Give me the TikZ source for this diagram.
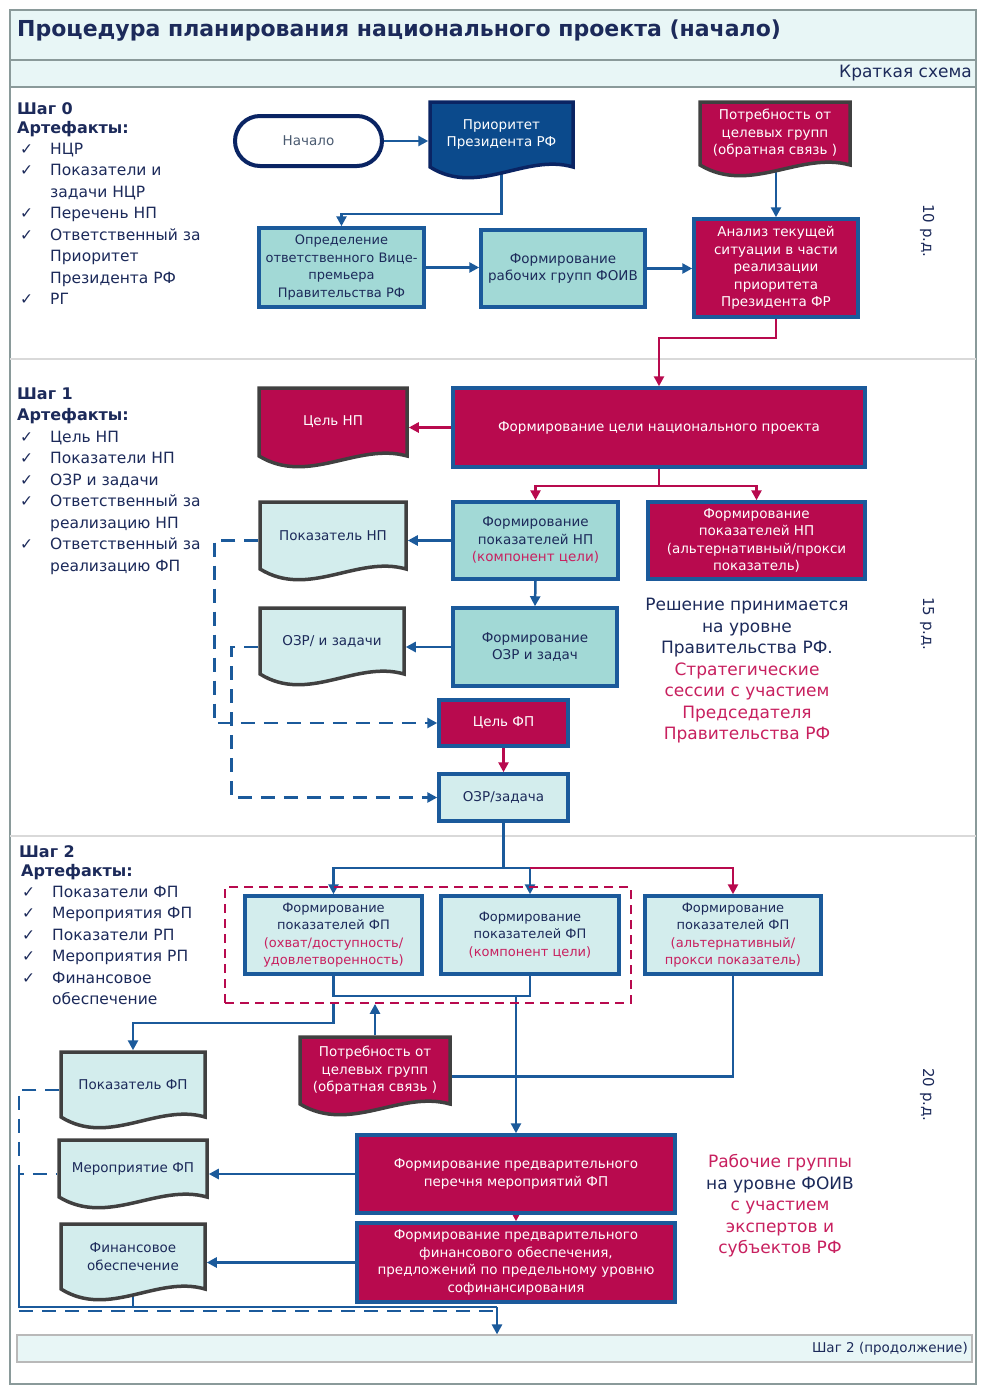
\documentclass[tikz,border=0pt]{standalone}
\usepackage{fontspec}
\setmainfont{DejaVu Sans}
\usetikzlibrary{arrows.meta,calc}
\pgfdeclarelayer{bg}
\pgfsetlayers{bg,main}
\definecolor{crim}{HTML}{B80A4E}
\definecolor{ctext}{HTML}{C8205F}
\definecolor{bblue}{HTML}{1B5A9B}
\definecolor{navy}{HTML}{1C2A5A}
\definecolor{tealf}{HTML}{A2D9D6}
\definecolor{lcyan}{HTML}{D3EDED}
\definecolor{dgray}{HTML}{404040}
\definecolor{pblue}{HTML}{0B4A8C}
\definecolor{pnavy}{HTML}{0A2463}
\definecolor{hdr}{HTML}{E8F6F6}
\definecolor{framec}{HTML}{8A9A9A}
\definecolor{startt}{HTML}{4A5A70}
\newcommand\bxn[7]{%
 \pgfmathsetmacro\bxw{#4-#2}%
 \pgfmathsetmacro\bxh{#5-#3}%
 \pgfmathsetmacro\bxcx{(#2+#4)/2}%
 \pgfmathsetmacro\bxcy{(#3+#5)/2}%
 \node[#6, minimum width=\bxw pt, minimum height=\bxh pt] (#1) at (\bxcx,\bxcy) {#7};}
\newcommand\docsh[8]{%
 \pgfmathsetmacro\dw{#4-#2}%
 \pgfmathsetmacro\yb{#5-11}%
 \pgfmathsetmacro\cxa{#4-\dw/3}%
 \pgfmathsetmacro\cxb{#2+\dw/3}%
 \pgfmathsetmacro\cya{\yb-14}%
 \pgfmathsetmacro\cyb{\yb+30}%
 \pgfmathsetmacro\dh{\yb-#3}%
 \pgfmathsetmacro\dcx{(#2+#4)/2}%
 \pgfmathsetmacro\dcy{(#3+\yb)/2}%
 \draw[#6] (#2,#3) -- (#4,#3) -- (#4,\yb) .. controls (\cxa,\cya) and (\cxb,\cyb) .. (#2,\yb) -- cycle;
 \node[doctext,#7, minimum width=\dw pt, minimum height=\dh pt] (#1) at (\dcx,\dcy) {#8};}
\tikzset{
 bxs/.style={draw=bblue, line width=3.5pt, align=center, font=\fontsize{13.5}{17.5}\selectfont, inner sep=2pt},
 tealbox/.style={bxs, fill=tealf, text=navy},
 cyanbox/.style={bxs, fill=lcyan, text=navy},
 crimbox/.style={bxs, fill=crim, text=white},
 docd/.style={draw=dgray, line width=3.5pt},
 doctext/.style={align=center, font=\fontsize{13.5}{17.5}\selectfont, inner sep=0pt, outer sep=1.75pt},
 startst/.style={draw=pnavy, line width=4pt, rounded corners=25pt, fill=white, text=startt, font=\fontsize{13.5}{17.5}\selectfont},
 grpst/.style={draw=crim, line width=1.8pt, dash pattern=on 9pt off 6pt},
 bline/.style={draw=bblue, line width=2.5pt},
 barrow/.style={bline, -{Triangle[length=10pt,width=10pt]}},
 rline/.style={draw=crim, line width=2.5pt},
 rarrow/.style={rline, -{Triangle[length=10pt,width=10pt]}},
 dline/.style={bline, dash pattern=on 14pt off 9pt},
 darrow/.style={dline, -{Triangle[length=10pt,width=10pt]}},
 hdst/.style={font=\bfseries\fontsize{16}{19}\selectfont, text=navy, inner sep=0pt},
 listst/.style={font=\fontsize{15.5}{21.5}\selectfont, text=navy, inner sep=0pt},
 rtext/.style={font=\fontsize{17}{21.5}\selectfont, text=navy, align=center, inner sep=0pt},
 daysst/.style={font=\fontsize{15}{18}\selectfont, text=navy, rotate=-90, inner sep=0pt},
}
\begin{document}
\begin{tikzpicture}[x=1pt,y=-1pt]
\useasboundingbox (0,0) rectangle (984,1392);
% frame
\begin{pgfonlayer}{bg}
\fill[white] (0,0) rectangle (984,1392);
\fill[hdr] (10,10) rectangle (976,87);
\draw[framec, line width=2.5pt] (10,10) rectangle (976,1384);
\draw[framec, line width=2.5pt] (10,60) -- (976,60);
\draw[framec, line width=1.5pt] (10,87) -- (976,87);
\draw[gray!30, line width=1.5pt] (10,359) -- (976,359);
\draw[gray!30, line width=1.5pt] (10,836) -- (976,836);
\end{pgfonlayer}
\node[anchor=west, font=\bfseries\fontsize{22}{25}\selectfont, text=navy, inner sep=0pt] (title) at (17,31) {Процедура планирования национального проекта (начало)};
\node[anchor=east, font=\fontsize{17}{20}\selectfont, text=navy, inner sep=0pt] (subt) at (972,73) {Краткая схема};
\bxn{bot}{17}{1335}{972}{1362}{fill=hdr, draw=gray!55, line width=1.2pt}{}
\node[anchor=east, font=\fontsize{13.5}{16}\selectfont, text=navy, inner sep=0pt] (bott) at (968,1349) {Шаг 2 (продолжение)};

% left texts
\node[hdst, anchor=base west] (s0) at (17,114) {Шаг 0};
\node[hdst, anchor=base west] (s0a) at (17,133) {Артефакты:};
\node[listst, anchor=base west] (l0) at (20,154) {\begin{tabular}[t]{@{}p{30pt}@{}l@{}}✓&НЦР\\✓&Показатели и\\&задачи НЦР\\✓&Перечень НП\\✓&Ответственный за\\&Приоритет\\&Президента РФ\\✓&РГ\end{tabular}};
\node[hdst, anchor=base west] (s1) at (17,399) {Шаг 1};
\node[hdst, anchor=base west] (s1a) at (17,420) {Артефакты:};
\node[listst, anchor=base west] (l1) at (20,442) {\begin{tabular}[t]{@{}p{30pt}@{}l@{}}✓&Цель НП\\✓&Показатели НП\\✓&ОЗР и задачи\\✓&Ответственный за\\&реализацию НП\\✓&Ответственный за\\&реализацию ФП\end{tabular}};
\node[hdst, anchor=base west] (s2) at (19,857) {Шаг 2};
\node[hdst, anchor=base west] (s2a) at (21,876) {Артефакты:};
\node[listst, anchor=base west] (l2) at (22,897) {\begin{tabular}[t]{@{}p{30pt}@{}l@{}}✓&Показатели ФП\\✓&Мероприятия ФП\\✓&Показатели РП\\✓&Мероприятия РП\\✓&Финансовое\\&обеспечение\end{tabular}};

% step 0
\bxn{start}{235}{116}{382}{166}{startst}{Начало}
\docsh{prior}{430}{102}{573}{178}{docd, draw=pnavy, fill=pblue}{text=white}{Приоритет\\Президента РФ}
\docsh{potr1}{700}{102}{850}{176}{docd, fill=crim}{text=white}{Потребность от\\целевых групп\\(обратная связь )}
\bxn{opr}{259}{228}{424}{307}{tealbox, font=\fontsize{13}{17.5}\selectfont}{Определение\\ответственного Вице-\\премьера\\Правительства РФ}
\bxn{frg}{481}{230}{645}{307}{tealbox}{Формирование\\рабочих групп ФОИВ}
\bxn{anal}{694}{219}{858}{317}{crimbox}{Анализ текущей\\ситуации в части\\реализации\\приоритета\\Президента ФР}
\node[daysst] (d10) at (927,231) {10 р.д.};

% step 1
\docsh{celnp}{259}{388}{407}{467}{docd, fill=crim}{text=white}{Цель НП}
\bxn{fcel}{453}{388}{865}{467}{crimbox}{Формирование цели национального проекта}
\bxn{fpnp}{453}{502}{618}{579}{tealbox}{Формирование\\показателей НП\\\textcolor{ctext}{(компонент цели)}}
\bxn{fpnp2}{648}{502}{865}{579}{crimbox}{Формирование\\показателей НП\\(альтернативный/прокси\\показатель)}
\docsh{pnp}{260}{502}{406}{580}{docd, fill=lcyan}{text=navy}{Показатель НП}
\bxn{fozr}{453}{608}{617}{686}{tealbox}{Формирование\\ОЗР и задач}
\docsh{ozr}{260}{608}{404}{685}{docd, fill=lcyan}{text=navy}{ОЗР/ и задачи}
\bxn{celfp}{439}{700}{568}{746}{crimbox}{Цель ФП}
\bxn{ozrz}{439}{774}{568}{821}{cyanbox}{ОЗР/задача}
\node[rtext] (dec) at (747,671) {Решение принимается\\на уровне\\Правительства РФ.\\\textcolor{ctext}{Стратегические}\\\textcolor{ctext}{сессии с участием}\\\textcolor{ctext}{Председателя}\\\textcolor{ctext}{Правительства РФ}};
\node[daysst] (d15) at (927,624) {15 р.д.};

% step 2
\bxn{grp}{225}{887}{631}{1003}{grpst}{}
\bxn{fa}{245}{896}{422}{974}{cyanbox, font=\fontsize{13}{17.5}\selectfont}{Формирование\\показателей ФП\\\textcolor{ctext}{(охват/доступность/}\\\textcolor{ctext}{удовлетворенность)}}
\bxn{fb}{441}{896}{619}{974}{cyanbox, font=\fontsize{13}{17.5}\selectfont}{Формирование\\показателей ФП\\\textcolor{ctext}{(компонент цели)}}
\bxn{fc}{645}{896}{821}{974}{cyanbox, font=\fontsize{13}{17.5}\selectfont}{Формирование\\показателей ФП\\\textcolor{ctext}{(альтернативный/}\\\textcolor{ctext}{прокси показатель)}}
\docsh{potr2}{300}{1037}{450}{1115}{docd, fill=crim}{text=white}{Потребность от\\целевых групп\\(обратная связь )}
\docsh{pfp}{61}{1052}{205}{1128}{docd, fill=lcyan}{text=navy}{Показатель ФП}
\docsh{mer}{59}{1140}{207}{1208}{docd, fill=lcyan}{text=navy}{Мероприятие ФП}
\docsh{fin}{61}{1224}{205}{1300}{docd, fill=lcyan}{text=navy}{Финансовое\\обеспечение}
\bxn{perech}{357}{1135}{675}{1213}{crimbox}{Формирование предварительного\\перечня мероприятий ФП}
\bxn{finbox}{357}{1223}{675}{1302}{crimbox}{Формирование предварительного\\финансового обеспечения,\\предложений по предельному уровню\\софинансирования}
\node[rtext] (rg) at (780,1206) {\textcolor{ctext}{Рабочие группы}\\на уровне ФОИВ\\\textcolor{ctext}{с участием}\\\textcolor{ctext}{экспертов и}\\\textcolor{ctext}{субъектов РФ}};
\node[daysst] (d20) at (927,1095) {20 р.д.};
\coordinate (lx1) at (19,1174);
\coordinate (lx2) at (19,1307);
\coordinate (lx3) at (497,1307);
\coordinate (lx4) at (19,1311);
\coordinate (lx5) at (494,1311);

% connectors
\begin{pgfonlayer}{bg}
\draw[barrow] (start.east) -- (start.east -| prior.west);
\draw[barrow] (prior.south) -- ++(0,45) -| (opr.north);
\draw[barrow] (opr.east) -- (opr.east -| frg.west);
\draw[barrow] (frg.east) -- (frg.east -| anal.west);
\draw[barrow] (potr1.south -| anal.north) -- (anal.north);
\draw[rarrow] (anal.south) -- ++(0,19) -| (fcel.north);
\draw[rarrow] (fcel.west) -- (fcel.west -| celnp.east);
\draw[rarrow] (fcel.south) -- ++(0,17) -| (fpnp.north);
\draw[rarrow] (fcel.south) -- ++(0,17) -| (fpnp2.north);
\draw[barrow] (fpnp.west) -- (fpnp.west -| pnp.east);
\draw[barrow] (fpnp.south) -- (fozr.north);
\draw[barrow] (fozr.west) -- (fozr.west -| ozr.east);
\draw[darrow] (fpnp.west -| pnp.west) -- ++(-44,0) |- (celfp.west);
\draw[darrow] (fozr.west -| ozr.west) -- ++(-27,0) |- (ozrz.west);
\draw[rarrow] (celfp.south) -- (ozrz.north);
\draw[barrow] (ozrz.south) -- ++(0,45) coordinate (j2) -| (fa.north);
\draw[barrow] (j2) -| (fb.north);
\draw[rarrow] (j2 -| fb.north) -| (fc.north);
\draw[bline] (fa.south) -- ++(0,20) coordinate (j3) -| (fb.south);
\draw[barrow] (j3 -| perech.north) -- (perech.north);
\draw[barrow] (grp.south -| fa.south) -- ++(0,19) -| (pfp.north);
\draw[barrow] (potr2.north) -- (potr2.north |- grp.south);
\draw[bline] (fc.south) |- ([yshift=-6pt]potr2.east);
\draw[barrow] (perech.west) -- (perech.west -| mer.east);
\draw[barrow] (finbox.west) -- (finbox.west -| fin.east);
\draw[rarrow] (perech.south) -- (finbox.north);
\draw[dline] ([yshift=-5.5pt]pfp.west) -| (lx1) -- (lx1 -| mer.west);
\draw[bline] (lx1) -- (lx2) -- (lx3);
\draw[dline] (lx4) -- (lx5);
\draw[barrow] (lx3) -- (lx3 |- bot.north);
\draw[bline] (fin.south) -- (fin.south |- lx2);
\end{pgfonlayer}
\end{tikzpicture}
\end{document}
